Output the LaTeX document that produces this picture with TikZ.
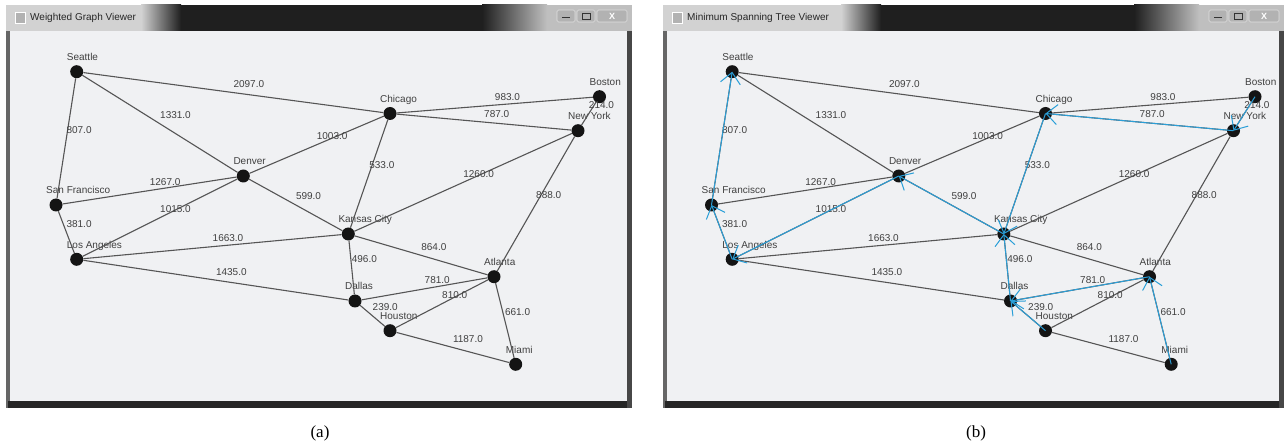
\documentclass[tikz,border=0pt]{standalone}
\usepackage{fontspec}
\setmainfont{Liberation Sans}
\newfontfamily\capfont{Liberation Serif}
\usetikzlibrary{calc,arrows.meta}
\definecolor{winbg}{HTML}{F0F1F3}
\definecolor{edgegray}{HTML}{555555}
\definecolor{txtgray}{HTML}{404040}
\definecolor{mstblue}{HTML}{2A9FD8}
\tikzset{
  vertex/.style={circle,fill=black!92,inner sep=0pt,minimum size=13pt},
  vlab/.style={font=\fontsize{10}{12}\selectfont,text=txtgray,anchor=base west,inner sep=0pt},
  wlab/.style={font=\fontsize{10}{12}\selectfont,text=txtgray,anchor=base west,inner sep=0pt},
  gedge/.style={draw=edgegray,line width=1.1pt},
  mst/.style={draw=mstblue,line width=1pt,-{Straight Barb[length=11pt,width=20pt]}},
  wtitle/.style={font=\fontsize{10}{12}\selectfont,text=black!85,anchor=west,inner sep=0pt},
  wbutton/.style={fill=gray!60,draw=gray!25,rounded corners=1.5pt,line width=0.6pt},
  caption/.style={font=\capfont\fontsize{17}{20}\selectfont,text=black},
}
\begin{document}
\begin{tikzpicture}[x=1pt,y=-1pt]
\useasboundingbox (0,0) rectangle (1285,446);
% windows
\foreach \p/\xa/\xb/\lw/\title in {a/6/632/135/Weighted Graph Viewer, b/663/1284/178/Minimum Spanning Tree Viewer}{
  \fill[black!60] (\xa,5) rectangle (\xb,408);
  \fill[winbg] (\xa+4,31) rectangle (\xb-5,401);
  \fill[black!85] (\xa+2,401) rectangle (\xb,408);
  \fill[black!72] (\xb-5,31) rectangle (\xb,408);
  \fill[black!88] (\xa,5) rectangle (\xb,31);
  \fill[gray!35] (\xa,5) rectangle (\xa+\lw,31);
  \shade[left color=gray!35,right color=black!88] (\xa+\lw,5) rectangle (\xa+\lw+40,31);
  \shade[left color=black!88,right color=gray!50] (\xb-150,5) rectangle (\xb-85,31);
  \fill[gray!50] (\xb-85,5) rectangle (\xb,31);
  \draw[wbutton] (\xb-75,10) rectangle (\xb-57,22);
  \draw[wbutton] (\xb-55,10) rectangle (\xb-37,22);
  \draw[wbutton] (\xb-35,10) rectangle (\xb-5,22);
  \draw[black!80,line width=0.8pt] (\xb-70,17) -- (\xb-62,17);
  \draw[black!80,line width=0.7pt] (\xb-50,13.5) rectangle (\xb-42,19.5);
  \node[font=\fontsize{9}{9}\selectfont\bfseries,text=white] at (\xb-20,16) {X};
  \draw[fill=gray!60,draw=white] (\xa+9,12) rectangle (\xa+19,23);
  \node[wtitle] (\p-title) at (\xa+24,18) {\title};
}
% vertices
\foreach \p/\dx in {a/0,b/655.5}{
  \foreach \n/\x/\y/\t in {Seattle/76.7/71.7/Seattle, SF/56/205/San Francisco, LA/76.7/259.3/Los Angeles,
      Denver/243.3/176/Denver, Chicago/390/113.5/Chicago, Boston/599.5/96.7/Boston,
      NY/578/130.7/New York, KC/348.3/234/Kansas City, Atlanta/494/276.7/Atlanta,
      Dallas/355/301/Dallas, Houston/390/330.7/Houston, Miami/515.7/364.3/Miami}{
    \node[vertex] (\p-\n) at (\x+\dx,\y) {};
    \node[vlab] (\p-\n-lab) at ([shift={(-10,-11)}]\p-\n.center) {\t};
  }
}
% edges with weights
\foreach \p in {a,b}{
  \foreach \u/\v/\w in {Seattle/SF/807.0, Seattle/Denver/1331.0, Seattle/Chicago/2097.0,
      SF/Denver/1267.0, SF/LA/381.0, LA/Denver/1015.0, LA/KC/1663.0, LA/Dallas/1435.0,
      Denver/Chicago/1003.0, Denver/KC/599.0, Chicago/Boston/983.0, Chicago/NY/787.0,
      Chicago/KC/533.0, Boston/NY/214.0, NY/KC/1260.0, NY/Atlanta/888.0,
      KC/Atlanta/864.0, KC/Dallas/496.0, Atlanta/Dallas/781.0, Atlanta/Houston/810.0,
      Atlanta/Miami/661.0, Dallas/Houston/239.0, Houston/Miami/1187.0}{
    \draw[gedge] (\p-\u) -- (\p-\v);
    \node[wlab] (\p-\u-\v) at ($(\p-\u)!0.5!(\p-\v)+(0,-5)$) {\w};
  }
}
% minimum spanning tree
\foreach \u/\v in {SF/Seattle, LA/SF, Denver/LA, KC/Denver, Dallas/KC, Chicago/KC,
    NY/Chicago, Boston/NY, Houston/Dallas, Atlanta/Dallas, Miami/Atlanta}{
  \draw[mst] (b-\u.center) -- (b-\v.center);
}
% captions
\node[caption] (capa) at (320,433) {(a)};
\node[caption] (capb) at (976,433) {(b)};
\end{tikzpicture}
\end{document}
